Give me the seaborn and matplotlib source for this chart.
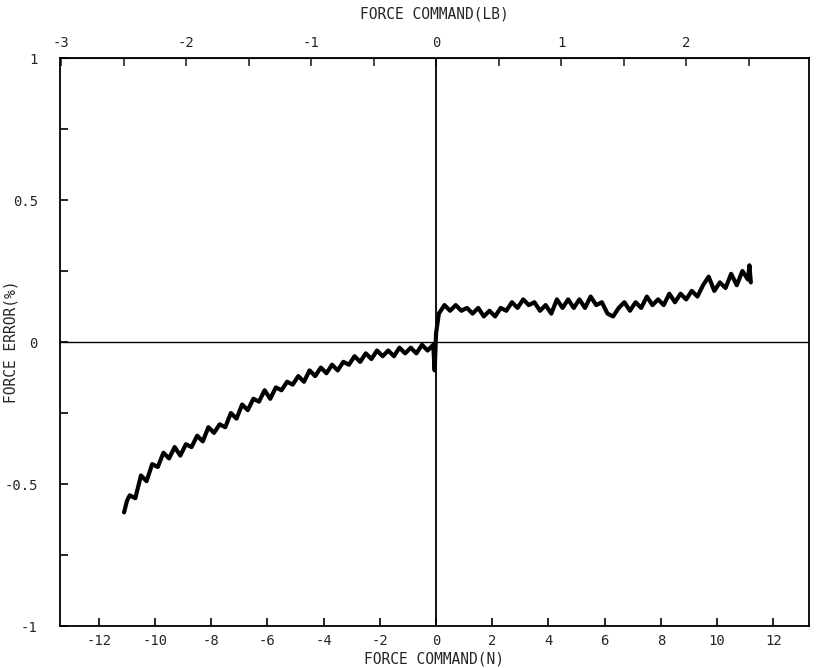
import numpy as np
import pandas as pd
import matplotlib
matplotlib.use("Agg")
import matplotlib.pyplot as plt
import seaborn as sns

# Lectura aproximada de la curva (N, %)
neg_force = [-11.1, -11.0, -10.9, -10.7, -10.5, -10.3, -10.1, -9.9, -9.7, -9.5, -9.3,
             -9.1, -8.9, -8.7, -8.5, -8.3, -8.1, -7.9, -7.7, -7.5, -7.3,
             -7.1, -6.9, -6.7, -6.5, -6.3, -6.1, -5.9, -5.7, -5.5, -5.3,
             -5.1, -4.9, -4.7, -4.5, -4.3, -4.1, -3.9, -3.7, -3.5, -3.3,
             -3.1, -2.9, -2.7, -2.5, -2.3, -2.1, -1.9, -1.7, -1.5, -1.3,
             -1.1, -0.9, -0.7, -0.5, -0.3, -0.1, -0.05, 0.0]
neg_error = [-0.60, -0.56, -0.54, -0.55, -0.47, -0.49, -0.43, -0.44, -0.39, -0.41, -0.37,
             -0.40, -0.36, -0.37, -0.33, -0.35, -0.30, -0.32, -0.29, -0.30, -0.25,
             -0.27, -0.22, -0.24, -0.20, -0.21, -0.17, -0.20, -0.16, -0.17, -0.14,
             -0.15, -0.12, -0.14, -0.10, -0.12, -0.09, -0.11, -0.08, -0.10, -0.07,
             -0.08, -0.05, -0.07, -0.04, -0.06, -0.03, -0.05, -0.03, -0.05, -0.02,
             -0.04, -0.02, -0.04, -0.01, -0.03, -0.01, -0.10, -0.08]

pos_force = [0.0, 0.1, 0.3, 0.5, 0.7, 0.9, 1.1, 1.3, 1.5, 1.7,
             1.9, 2.1, 2.3, 2.5, 2.7, 2.9, 3.1, 3.3, 3.5, 3.7,
             3.9, 4.1, 4.3, 4.5, 4.7, 4.9, 5.1, 5.3, 5.5, 5.7,
             5.9, 6.1, 6.3, 6.5, 6.7, 6.9, 7.1, 7.3, 7.5, 7.7,
             7.9, 8.1, 8.3, 8.5, 8.7, 8.9, 9.1, 9.3, 9.5, 9.7,
             9.9, 10.1, 10.3, 10.5, 10.7, 10.9, 11.1, 11.15, 11.2]
pos_error = [0.14, 0.10, 0.13, 0.11, 0.13, 0.11, 0.12, 0.10, 0.12, 0.09,
             0.11, 0.09, 0.12, 0.11, 0.14, 0.12, 0.15, 0.13, 0.14, 0.11,
             0.13, 0.10, 0.15, 0.12, 0.15, 0.12, 0.15, 0.12, 0.16, 0.13,
             0.14, 0.10, 0.09, 0.12, 0.14, 0.11, 0.14, 0.12, 0.16, 0.13,
             0.15, 0.13, 0.17, 0.14, 0.17, 0.15, 0.18, 0.16, 0.20, 0.23,
             0.18, 0.21, 0.19, 0.24, 0.20, 0.25, 0.22, 0.27, 0.21]

x_ticks = [-12, -10, -8, -6, -4, -2, 0, 2, 4, 6, 8, 10, 12]
lb_ticks = [-3, -2, -1, 0, 1, 2]
y_ticks = [-1, -0.5, 0, 0.5, 1]
y_labels = ['-1', '-0.5', '0', '0.5', '1']

N_PER_LB = 4.448

df = pd.DataFrame({
    'force': neg_force + pos_force,
    'error': neg_error + pos_error,
})

sns.set_style("ticks")
plt.rcParams['font.family'] = ['DejaVu Sans Mono', 'DejaVu Sans']

fig = plt.figure(figsize=(8.16, 6.68), dpi=100)
ax = fig.add_axes([60 / 816, 1 - 626 / 668, 749 / 816, 568 / 668])

sns.lineplot(data=df, x='force', y='error', sort=False, color='black',
             linewidth=3.0, ax=ax)

ax.axhline(0, color='black', linewidth=1.0)
ax.axvline(0, color='black', linewidth=1.3)

ax.set_xlim(-13.38, 13.27)
ax.set_ylim(-1, 1)

ax.set_xticks(x_ticks)
ax.set_xticklabels([str(t) for t in x_ticks])
ax.set_yticks(y_ticks)
ax.set_yticklabels(y_labels)
ax.set_yticks([-0.75, -0.25, 0.25, 0.75], minor=True)
ax.tick_params(axis='both', which='both', direction='in', length=6, width=1.2,
               labelsize=10, color='black', pad=6)
ax.tick_params(axis='y', pad=16)

for s in ax.spines.values():
    s.set_linewidth(1.3)
    s.set_color('black')

ax.set_xlabel('FORCE COMMAND(N)', fontsize=10.5)
ax.xaxis.set_label_coords(0.5, -0.045)
ax.set_ylabel('FORCE ERROR(%)', fontsize=10.5)
ax.yaxis.set_label_coords(-0.055, 0.5)

top = ax.secondary_xaxis('top', functions=(lambda v: v / N_PER_LB, lambda v: v * N_PER_LB))
top.set_xticks(lb_ticks)
top.set_xticklabels([str(t) for t in lb_ticks])
top.set_xticks([-2.5, -1.5, -0.5, 0.5, 1.5, 2.5], minor=True)
top.tick_params(axis='x', which='both', direction='in', length=6, width=1.2,
                labelsize=10, pad=6)
top.set_xlabel('FORCE COMMAND(LB)', fontsize=10.5, labelpad=12)

fig.savefig('out.png', dpi=100)
